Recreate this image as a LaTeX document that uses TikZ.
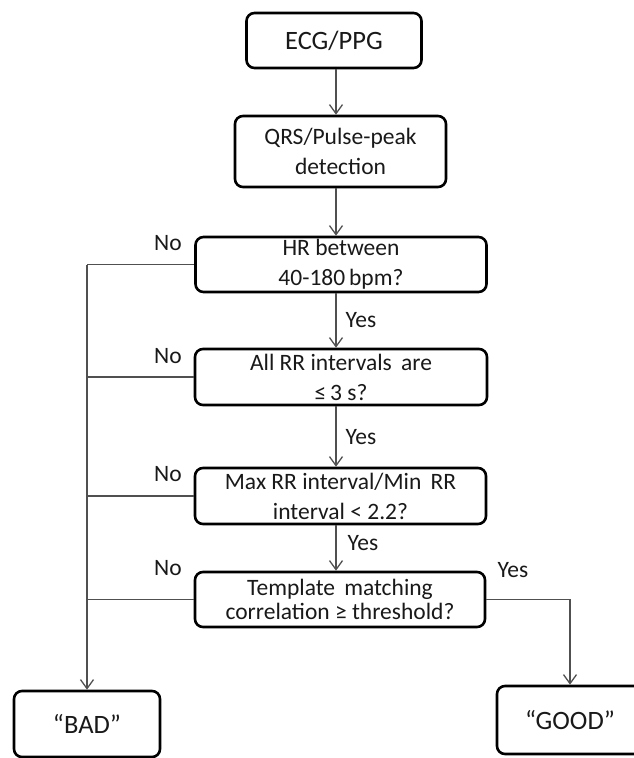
\documentclass[tikz,border=0pt]{standalone}
\usepackage{fontspec}
\setmainfont{Carlito}
\usetikzlibrary{arrows.meta,positioning}
\definecolor{lineclr}{RGB}{80,80,80}
\definecolor{txtclr}{RGB}{25,25,25}

\tikzset{
  stepbox/.style={draw=black,line width=2.6pt,rounded corners=8pt,align=center,
    text=txtclr,inner sep=0pt,font=\fontsize{23.5}{30}\selectfont},
  endbox/.style={stepbox,font=\fontsize{26.5}{32}\selectfont},
  conn/.style={draw=lineclr,line width=1.3pt,-{Straight Barb[length=9pt,width=13pt]}},
  wire/.style={draw=lineclr,line width=1.3pt},
  lbl/.style={text=txtclr,inner sep=0pt,font=\fontsize{23.5}{28}\selectfont}
}

\begin{document}
\begin{tikzpicture}[x=1pt,y=-1pt]
        \useasboundingbox (0,0) rectangle (634,758);
        % boxes
        \node[endbox,minimum width=175pt,minimum height=55pt] (ecg) at (334,40.5) {ECG/PPG};
        \node[stepbox,minimum width=211pt,minimum height=71pt] (qrs) at (340.5,151.5) {QRS/Pulse-peak\\detection};
        \node[stepbox,minimum width=291pt,minimum height=55pt] (hr) at (341,264.5) {HR between\\40-180\,bpm?};
        \node[stepbox,minimum width=292pt,minimum height=56pt] (allrr) at (341,377) {All RR intervals\, are\\≤\,3 s?};
        \node[stepbox,minimum width=291pt,minimum height=56pt] (ratio) at (340.5,496) {Max RR interval/Min\, RR\\interval < 2.2?};
        \node[stepbox,minimum width=290pt,minimum height=55pt,font=\fontsize{23.5}{24.5}\selectfont] (tmpl) at (340,599.5) {Template\, matching\\correlation ≥ threshold?};
        \node[endbox,minimum width=146pt,minimum height=66pt] (bad) at (87,724) {“BAD”};
        \node[endbox,minimum width=146pt,minimum height=68pt] (good) at (570,720) {“GOOD”};

        % spine and rail
        \coordinate (spine) at (336,0);
        \coordinate (rail) at (87,0);

        \draw[conn] (spine |- ecg.south) -- (spine |- qrs.north);
        \draw[conn] (spine |- qrs.south) -- (spine |- hr.north);
        \draw[conn] (spine |- hr.south) -- (spine |- allrr.north);
        \draw[conn] (spine |- allrr.south) -- (spine |- ratio.north);
        \draw[conn] (spine |- ratio.south) -- (spine |- tmpl.north);

        \draw[wire] (hr.west) -- (rail |- hr.west);
        \draw[wire] (allrr.west) -- (rail |- allrr.west);
        \draw[wire] (ratio.west) -- (rail |- ratio.west);
        \draw[wire] (tmpl.west) -- (rail |- tmpl.west);
        \draw[conn] (rail |- hr.west) -- (bad.north);
        \draw[conn] (tmpl.east) -| (good.north);

        % labels
        \node[lbl] (no1) at (168,243) {No};
        \node[lbl] (no2) at (168,356) {No};
        \node[lbl] (no3) at (168,474) {No};
        \node[lbl] (no4) at (168,568) {No};
        \node[lbl] (yes1) at (361,320) {Yes};
        \node[lbl] (yes2) at (361,437) {Yes};
        \node[lbl] (yes3) at (363,543) {Yes};
        \node[lbl] (yes4) at (513,570) {Yes};
\end{tikzpicture}
\end{document}
